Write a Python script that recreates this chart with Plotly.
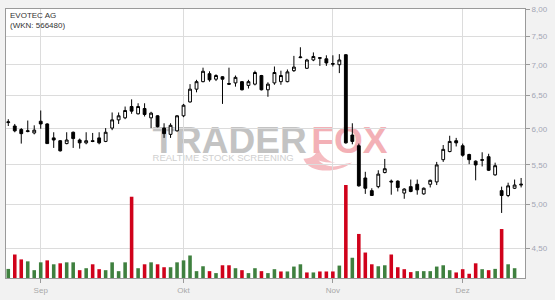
import math
import pandas as pd
import plotly.graph_objects as go

# ---- data ----
dates = [d.strftime("%Y-%m-%d") for d in pd.bdate_range("2025-08-25", periods=80)]

opens = [6.09, 6.04, 5.99, 5.96, 5.94, 6.11, 6.07, 5.87, 5.83, 5.79,
         5.95, 5.84, 5.80, 5.83, 5.87, 5.82, 6.01, 6.13, 6.16, 6.33,
         6.22, 6.30, 6.16, 6.19, 6.01, 5.92, 5.97, 6.19, 6.40, 6.60,
         6.72, 6.85, 6.76, 6.80, 6.69, 6.70, 6.72, 6.66, 6.68, 6.82,
         6.59, 6.70, 6.72, 6.72, 6.90, 7.12, 6.94, 7.08, 7.12, 7.10,
         7.02, 7.00, 7.17, 5.91, 5.76, 5.33, 5.17, 5.22, 5.40, 5.29,
         5.29, 5.14, 5.22, 5.25, 5.13, 5.25, 5.28, 5.57, 5.68, 5.83,
         5.76, 5.64, 5.55, 5.56, 5.61, 5.37, 5.17, 5.11, 5.20, 5.24]
highs = [6.14, 6.07, 6.01, 6.12, 6.05, 6.27, 6.08, 5.95, 5.84, 5.95,
         5.96, 5.86, 5.95, 5.94, 5.95, 6.01, 6.24, 6.24, 6.33, 6.44,
         6.38, 6.38, 6.25, 6.20, 6.08, 6.08, 6.20, 6.37, 6.68, 6.75,
         6.95, 6.89, 6.84, 6.81, 6.95, 6.82, 6.73, 6.75, 6.90, 6.83,
         6.71, 6.97, 6.90, 6.92, 7.15, 7.30, 7.10, 7.21, 7.13, 7.16,
         7.16, 7.18, 7.18, 6.08, 5.79, 5.41, 5.20, 5.43, 5.58, 5.31,
         5.30, 5.20, 5.31, 5.31, 5.21, 5.31, 5.54, 5.77, 5.90, 5.87,
         5.79, 5.65, 5.56, 5.67, 5.65, 5.53, 5.22, 5.27, 5.31, 5.33]
lows = [6.04, 5.95, 5.79, 5.95, 5.92, 6.00, 5.79, 5.73, 5.68, 5.78,
        5.73, 5.72, 5.78, 5.81, 5.78, 5.81, 5.98, 6.07, 6.14, 6.22,
        6.21, 6.18, 6.01, 6.02, 5.87, 5.87, 5.96, 6.17, 6.39, 6.55,
        6.71, 6.72, 6.73, 6.37, 6.67, 6.64, 6.58, 6.61, 6.66, 6.58,
        6.48, 6.67, 6.67, 6.71, 6.88, 7.11, 6.93, 7.06, 6.98, 6.98,
        6.97, 6.86, 5.79, 5.78, 5.22, 5.13, 5.11, 5.20, 5.39, 5.12,
        5.16, 5.07, 5.15, 5.12, 5.12, 5.21, 5.24, 5.54, 5.67, 5.75,
        5.61, 5.51, 5.30, 5.48, 5.42, 5.36, 4.90, 5.09, 5.19, 5.21]
closes = [6.10, 5.97, 5.93, 5.97, 5.98, 6.07, 5.79, 5.84, 5.69, 5.84,
          5.86, 5.80, 5.83, 5.82, 5.80, 5.95, 6.13, 6.19, 6.27, 6.26,
          6.33, 6.21, 6.23, 6.03, 5.93, 6.05, 6.19, 6.35, 6.60, 6.72,
          6.89, 6.75, 6.82, 6.76, 6.68, 6.79, 6.59, 6.72, 6.87, 6.59,
          6.68, 6.87, 6.82, 6.88, 6.96, 7.13, 7.08, 7.14, 7.11, 7.03,
          7.01, 7.08, 5.80, 5.82, 5.23, 5.20, 5.11, 5.38, 5.45, 5.28,
          5.21, 5.19, 5.16, 5.18, 5.20, 5.30, 5.50, 5.71, 5.82, 5.80,
          5.63, 5.57, 5.50, 5.57, 5.43, 5.49, 5.11, 5.23, 5.24, 5.25]
# volume in thousand shares (last session has no volume bar)
volumes = [232, 600, 475, 425, 200, 400, 450, 350, 375, 400,
           400, 200, 250, 350, 225, 200, 400, 175, 400, 2075,
           250, 350, 400, 350, 275, 275, 400, 450, 575, 175,
           300, 175, 125, 325, 325, 250, 200, 125, 250, 175,
           125, 225, 167, 167, 292, 350, 142, 142, 167, 167,
           167, 317, 2375, 517, 1125, 650, 350, 300, 325, 600,
           275, 225, 150, 175, 175, 175, 292, 325, 200, 142,
           225, 108, 375, 225, 200, 233, 1250, 350, 250, None]

price_ticks = [4.5, 5.0, 5.5, 6.0, 6.5, 7.0, 7.5, 8.0]
price_tick_labels = ["4,50", "5,00", "5,50", "6,00", "6,50", "7,00", "7,50", "8,00"]
month_ticks = ["2025-09-01", "2025-10-01", "2025-11-03", "2025-12-01"]
month_labels = ["Sep", "Okt", "Nov", "Dez"]

GREEN = "#3f803f"
RED = "#d0021b"
vol_colors = [GREEN] + [GREEN if closes[i] >= closes[i - 1] else RED for i in range(1, len(closes))]

W, H = 555, 300
ML, MR, MT, MB = 5, 30, 5, 20
PW, PH = W - ML - MR, H - MT - MB


def px_x(x):
    return (x - ML) / PW


def px_y(y):
    return (H - MB - y) / PH


def pt(x, y):
    return f"{px_x(x):.5f},{px_y(y):.5f}"


fig = go.Figure()
fig.add_trace(go.Bar(
    x=dates, y=volumes, yaxis="y2", width=0.55,
    marker=dict(color=vol_colors, line=dict(width=0)),
    hoverinfo="skip", showlegend=False,
))
fig.add_trace(go.Candlestick(
    x=dates, open=opens, high=highs, low=lows, close=closes,
    increasing=dict(line=dict(color="#000000", width=1), fillcolor="#ffffff"),
    decreasing=dict(line=dict(color="#000000", width=1), fillcolor="#000000"),
    whiskerwidth=0, showlegend=False,
))

axis_line = "#9a9a9a"
grid = "#dcdcdc"

fig.update_layout(
    width=W, height=H,
    margin=dict(l=ML, r=MR, t=MT, b=MB, pad=0),
    paper_bgcolor="#f2f2f2", plot_bgcolor="#ffffff",
    font=dict(family="Liberation Sans, Arial, sans-serif", size=8, color="#333333"),
    showlegend=False,
    boxgap=0.38,
    bargap=0.45,
    xaxis=dict(
        type="category", range=[-0.35, 79.6],
        tickmode="array", tickvals=month_ticks, ticktext=month_labels,
        showgrid=True, gridcolor=grid, gridwidth=1,
        ticks="outside", ticklen=4, tickcolor=axis_line,
        showline=True, linecolor=axis_line, linewidth=1, mirror=True,
        tickfont=dict(size=8, color="#a8a8a8"),
        rangeslider=dict(visible=False), fixedrange=True,
    ),
    yaxis=dict(
        type="log", side="right",
        range=[math.log10(4.19), math.log10(8.004)],
        tickmode="array", tickvals=price_ticks, ticktext=price_tick_labels,
        showgrid=True, gridcolor=grid, gridwidth=1, zeroline=False,
        ticks="outside", ticklen=4, tickcolor=axis_line,
        showline=True, linecolor=axis_line, linewidth=1, mirror=True,
        tickfont=dict(size=8, color="#a3a6b4"), fixedrange=True,
    ),
    yaxis2=dict(
        overlaying="y", range=[0, 6868], visible=False, fixedrange=True,
    ),
)

# watermark (drawn below the data)
swirl = ("M " + pt(303, 158) + " C " + pt(308, 173) + " " + pt(336, 174) + " " + pt(352, 162)
         + " C " + pt(336, 166) + " " + pt(322, 160) + " " + pt(318, 147)
         + " C " + pt(316, 154) + " " + pt(311, 158) + " " + pt(303, 158) + " Z")
fig.add_shape(type="path", xref="paper", yref="paper", path=swirl,
              line=dict(width=0), fillcolor="#f5bcc1", layer="below")
tail = ("M " + pt(318, 160) + " C " + pt(326, 168) + " " + pt(340, 168) + " " + pt(350, 160)
        + " C " + pt(338, 163) + " " + pt(328, 163) + " " + pt(318, 160) + " Z")
fig.add_shape(type="path", xref="paper", yref="paper", path=tail,
              line=dict(width=0), fillcolor="#ffffff", layer="below")
fig.add_shape(type="rect", xref="paper", yref="paper",
              x0=px_x(148), x1=px_x(310), y0=px_y(150), y1=px_y(120),
              line=dict(width=0), fillcolor="rgba(0,0,0,0)", layer="below",
              label=dict(text="TRADER", textposition="middle center",
                         font=dict(family="Liberation Sans", size=37, color="#c3c3c3", weight="bold")))
fig.add_shape(type="rect", xref="paper", yref="paper",
              x0=px_x(308), x1=px_x(390), y0=px_y(150), y1=px_y(120),
              line=dict(width=0), fillcolor="rgba(0,0,0,0)", layer="below",
              label=dict(text="FOX", textposition="middle center",
                         font=dict(family="Liberation Sans", size=37, color="#f3b0b6", weight="bold")))
fig.add_shape(type="rect", xref="paper", yref="paper",
              x0=px_x(145), x1=px_x(300), y0=px_y(162), y1=px_y(150),
              line=dict(width=0), fillcolor="rgba(0,0,0,0)", layer="below",
              label=dict(text="REALTIME STOCK SCREENING", textposition="middle center",
                         font=dict(family="Liberation Sans", size=9.5, color="#d0d0d0")))

fig.add_annotation(text="EVOTEC AG", xref="paper", yref="paper",
                   x=px_x(7), y=px_y(12), xanchor="left", yanchor="middle",
                   showarrow=False, font=dict(size=8, color="#333333"))
fig.add_annotation(text="(WKN: 566480)", xref="paper", yref="paper",
                   x=px_x(7), y=px_y(21.5), xanchor="left", yanchor="middle",
                   showarrow=False, font=dict(size=8, color="#333333"))

fig.write_html("out.html", config=dict(displayModeBar=False, staticPlot=True))
